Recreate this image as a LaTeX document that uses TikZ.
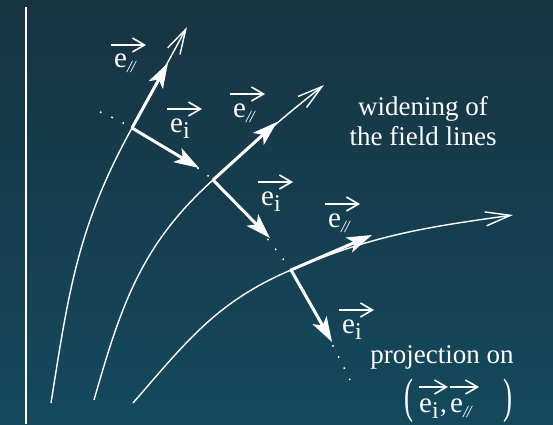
\documentclass[tikz,border=0pt]{standalone}
\usepackage{fontspec}
\usepackage{graphicx}
\setmainfont{Liberation Serif}
\usetikzlibrary{arrows.meta}

\definecolor{bgtop}{RGB}{23,52,66}
\definecolor{bgbottom}{RGB}{20,73,93}

% unit vectors written as e with a subscript
\newcommand{\esub}[1]{{\fontsize{29pt}{29pt}\selectfont e}{\fontsize{24pt}{24pt}\selectfont\raisebox{-6pt}{#1}}}
\newcommand{\epar}{{\fontsize{29pt}{29pt}\selectfont e}{\fontsize{17pt}{17pt}\selectfont\raisebox{-5pt}{\itshape /\kern-1pt/}}}

\begin{document}
\begin{tikzpicture}[x=1pt,y=1pt]
	\tikzstyle{every node}=[font=\fontsize{27pt}{30pt}\selectfont, text=white, inner sep=0pt]
	\tikzstyle{field}=[white, line width=1.4pt, -{Straight Barb[length=25pt,width=14pt]}]
	\tikzstyle{basis}=[white, line width=3pt, -{Stealth[length=25pt,width=16pt,inset=6pt]}]
	\tikzstyle{overarrow}=[white, line width=1.6pt, -{Straight Barb[length=12pt,width=14pt]}]
	\tikzstyle{normal}=[white, line width=1.5pt, dash pattern=on 1.5pt off 11pt]
	
	\shade[top color=bgtop, bottom color=bgbottom] (0,0) rectangle (553,424);
	\useasboundingbox (0,0) rectangle (553,424);
	
	\draw[white, line width=1.8pt] (26,0) -- (26,417);
	
	\coordinate (j1) at (132,296);
	\coordinate (j2) at (213,244);
	\coordinate (j3) at (291,154);
	
	% normal line through the three field lines
	\draw[normal] plot[smooth] coordinates {(100,312) (j1) (j2) (j3) (350,44)};
	
	% field lines
	\draw[field] (51,21) to[out=81,in=241] (j1) -- (187,397);
	\draw[field] (94,24) to[out=74,in=222] (j2) to[out=42,in=218] (324,339);
	\draw[field] (133,21) to[out=49,in=203] (j3) to[out=23,in=188] (513,209);
	
	% local basis
	\draw[basis] (j1) -- (168,361);
	\draw[basis] (j1) -- (199,256);
	\draw[basis] (j2) -- (277,302);
	\draw[basis] (j2) -- (270,186);
	\draw[basis] (j3) -- (372,189);
	\draw[basis] (j3) -- (332,82);
	
	\node[anchor=base west] (p1) at (114,356) {\epar};
	\node[anchor=base west] (i1) at (170,292) {\esub{i}};
	\node[anchor=base west] (p2) at (233,307) {\epar};
	\node[anchor=base west] (i2) at (261,219) {\esub{i}};
	\node[anchor=base west] (p3) at (328,197) {\epar};
	\node[anchor=base west] (i3) at (342,91) {\esub{i}};
	
	\foreach \n in {p1,i1,p2,i2,p3,i3}
		\draw[overarrow] ([shift={(-3pt,23pt)}]\n.base west) -- +(35,0);
	
	\node[align=center] (wid) at (423,303) {widening of\\the field lines};
	\node[anchor=base] (proj) at (442,61) {projection on};
	
	\node[anchor=base west] (lpar) at (404,12) {\scalebox{1}[1.8]{(}};
	\node[anchor=base west] (i4) at (419,12) {\esub{i}};
	\node[anchor=base west] (comma) at (440,12) {,};
	\node[anchor=base west] (p4) at (450,12) {\epar};
	\node[anchor=base east] (rpar) at (513,12) {\scalebox{1}[1.8]{)}};
	
	\foreach \n in {i4,p4}
		\draw[overarrow] ([shift={(0pt,25pt)}]\n.base west) -- +(29,0);
	
\end{tikzpicture}
\end{document}
